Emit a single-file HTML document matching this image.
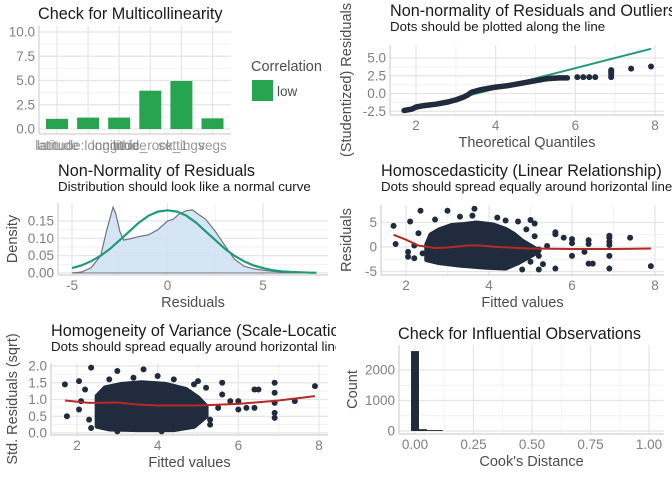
<!DOCTYPE html>
<html><head><meta charset="utf-8"><style>
body{margin:0;background:#fff}
svg{display:block;font-family:"Liberation Sans",sans-serif}
</style></head><body>
<svg id="c" width="672" height="480" viewBox="0 0 672 480" xmlns="http://www.w3.org/2000/svg">
<defs><clipPath id="leftclip"><rect x="0" y="0" width="336" height="480"/></clipPath></defs>
</svg>
<script>
// ---------- data ----------
const vifCategories=["latitude","latitude:longitude","longitude","lithic_rock_1","settings","vegs"];
const vifValues=[1.05,1.17,1.17,3.95,4.95,1.1];
const vifTicks=[0,2.5,5,7.5,10];
const vifTickLabels=["0.0","2.5","5.0","7.5","10.0"];

const qqX=[1.7,1.9,2.0,2.2,2.5,2.8,3.0,3.2,3.3,3.4,3.6,3.8,4.0,4.3,4.6,5.0,5.3,5.6,5.8];
const qqY=[-2.4,-2.2,-1.9,-1.7,-1.5,-1.2,-0.9,-0.5,-0.2,0.2,0.5,0.7,0.9,1.1,1.4,1.8,2.1,2.2,2.2];
const qqOutX=[6.05,6.2,6.35,6.5,6.9,6.9,6.9,6.9,6.9,7.4,7.9];
const qqOutY=[2.3,2.3,2.3,2.3,2.3,2.6,2.9,3.1,3.3,3.5,3.8];
const qqLineX=[1.7,7.9];
const qqLineY=[-2.6,6.3];
const qqXTicks=[2,4,6,8];
const qqYTicks=[-2.5,0,2.5,5];
const qqYLabels=["-2.5","0.0","2.5","5.0"];

const densX=[-5,-4.5,-4,-3.5,-3.2,-3.0,-2.85,-2.7,-2.5,-2.3,-2,-1.5,-1,-0.5,-0.2,0,0.3,0.6,1,1.3,1.6,2,2.5,3,3.5,4,4.5,5,5.5,6,7,7.8];
const densY=[0,0.003,0.015,0.05,0.12,0.16,0.19,0.17,0.12,0.095,0.098,0.105,0.11,0.125,0.14,0.15,0.155,0.17,0.18,0.182,0.17,0.155,0.12,0.08,0.04,0.02,0.012,0.008,0.005,0.003,0.001,0];
const normX=[-5,-4.5,-4,-3.5,-3,-2.5,-2,-1.5,-1,-0.5,0,0.5,1,1.5,2,2.5,3,3.5,4,4.5,5,5.5,6,6.5,7,7.5,7.8];
const normY=[0.014,0.022,0.034,0.05,0.07,0.095,0.12,0.145,0.165,0.177,0.181,0.177,0.165,0.145,0.12,0.095,0.07,0.05,0.034,0.022,0.014,0.008,0.005,0.003,0.002,0.001,0.001];
const densXTicks=[-5,0,5];
const densYTicks=[0,0.05,0.1,0.15];
const densYLabels=["0.00","0.05","0.10","0.15"];

const homBlob=[[2.5,-2.6],[2.5,0.5],[2.6,2.5],[2.8,3.5],[3.1,4.4],[3.4,4.6],[3.7,4.9],[4.1,4.5],[4.4,3.6],[4.6,2.6],[4.8,1.2],[5.0,0.2],[5.2,-0.8],[5.0,-1.8],[4.7,-3.2],[4.4,-4.3],[3.9,-4.1],[3.3,-3.7],[2.8,-3.2]];
const homPts=[[1.7,4.3],[1.75,0.6],[2.05,-1],[2.05,-2.0],[2.1,5.2],[2.35,7.4],[3.0,7.4],[3.65,7.8],[3.6,6.4],[4.7,5.2],[5.0,5.5],[5.1,4.8],[5.2,-1.8],[5.2,-4.6],[5.6,3.0],[5.6,2.6],[5.6,-4.4],[5.8,1.9],[5.3,-3.5],[6.0,1.6],[6.0,0.8],[6.0,-1.8],[6.3,-1.0],[6.4,1.4],[6.4,0.6],[6.4,-3.4],[6.5,-3.4],[6.9,2.3],[6.9,1.9],[6.9,1.1],[6.9,0.4],[6.9,-1.8],[6.9,-4.4],[7.4,1.9],[7.9,-3.9],[5.2,-0.5],[5.4,0.2],[5.0,-3.0],[2.2,-2.3],[2.2,0.3],[2.3,2.8],[2.4,-1.3],[2.7,5.6],[3.3,6.2],[4.2,6.0],[4.4,5.4],[4.8,-4.6],[5.1,2.2],[4.9,3.6]];
const homLoessX=[1.7,2,2.3,2.7,3,3.5,3.8,4.2,5,6,7,7.9];
const homLoessY=[2.5,1.5,0.3,-0.2,-0.1,0.3,0.3,0,-0.3,-0.4,-0.4,-0.3];
const homXTicks=[2,4,6,8];
const homYTicks=[-5,0,5];

const slBlob=[[2.5,0.2],[2.5,1.1],[2.7,1.35],[3.1,1.45],[3.6,1.5],[4.2,1.45],[4.7,1.3],[5.0,1.05],[5.2,0.8],[5.2,0.5],[4.9,0.2],[4.4,0.1],[3.5,0.1],[2.8,0.12]];
const slPts=[[1.7,1.45],[1.75,0.5],[2.05,0.7],[2.05,1.55],[2.35,1.95],[3.0,1.85],[3.65,1.9],[5.0,1.55],[5.2,1.35],[5.3,0.25],[5.6,1.5],[5.6,1.15],[5.5,0.75],[5.8,0.95],[6.0,0.95],[6.0,0.7],[6.4,1.3],[6.5,1.3],[6.4,0.75],[6.2,0.75],[6.9,1.5],[6.9,1.2],[6.9,0.9],[6.9,0.6],[6.9,0.45],[7.4,0.95],[7.9,1.4],[2.1,0.95],[2.2,1.3],[2.3,0.4],[2.35,0.15],[2.8,1.6],[3.4,1.65],[4.0,1.7],[4.4,1.6],[4.9,1.45],[3.0,0.05],[4.1,0.05],[5.3,0.4]];
const slLoessX=[1.7,2.3,3,3.5,4,5,6,7,7.9];
const slLoessY=[0.97,0.9,0.91,0.85,0.82,0.82,0.87,0.97,1.1];
const slXTicks=[2,4,6,8];
const slYTicks=[0,0.5,1,1.5,2];
const slYLabels=["0.0","0.5","1.0","1.5","2.0"];

const cookBinStart=[-0.017,0.017,0.051,0.085];
const cookCounts=[2620,60,30,30];
const cookBinWidth=0.034;
const cookXTicks=[0,0.25,0.5,0.75,1];
const cookXLabels=["0.00","0.25","0.50","0.75","1.00"];
const cookYTicks=[0,1000,2000];

// ---------- helpers ----------
const svg=document.getElementById('c');
const NS="http://www.w3.org/2000/svg";
function el(tag,attrs,parent){const e=document.createElementNS(NS,tag);for(const k in attrs)e.setAttribute(k,attrs[k]);(parent||svg).appendChild(e);return e;}
function txt(s,attrs,parent){const e=el('text',attrs,parent);e.textContent=s;return e;}
function lin(d0,d1,r0,r1){return v=>r0+(v-d0)*(r1-r0)/(d1-d0);}
const DARK="#202c3d", GRID="#e5e5e5", MINOR="#f2f2f2", TICK="#7f7f7f", AX="#4d4d4d";

function panel(name,b,xs,ys,xt,xl,yt,yl,opts){
  const g=el('g',opts.clip?{'clip-path':'url(#leftclip)'}:{});
  
  
  if(!opts.noMinorY)for(let i=0;i<yt.length-1;i++){const v=(yt[i]+yt[i+1])/2;el('line',{x1:b.l,x2:b.r,y1:ys(v),y2:ys(v),stroke:MINOR,'stroke-width':1},g);}
  if(!opts.noMinorX)for(let i=0;i<xt.length-1;i++){const v=(xt[i]+xt[i+1])/2;el('line',{x1:xs(v),x2:xs(v),y1:b.t,y2:b.b,stroke:MINOR,'stroke-width':1},g);}
  yt.forEach((v,i)=>{el('line',{x1:b.l,x2:b.r,y1:ys(v),y2:ys(v),stroke:GRID,'stroke-width':1.2},g);
    const t=txt(yl[i],{x:b.l-4,y:ys(v)+4.5,'text-anchor':'end','font-size':13.5,fill:TICK},g);});
  xt.forEach((v,i)=>{el('line',{x1:xs(v),x2:xs(v),y1:b.t,y2:b.b,stroke:GRID,'stroke-width':1.2},g);
    if(xl){const t=txt(xl[i],{x:xs(v),y:b.b+15,'text-anchor':'middle','font-size':13.5,fill:TICK},g);}});
  el('line',{x1:b.l,x2:b.l,y1:b.t,y2:b.b,stroke:"#d0d0d0",'stroke-width':1.2},g);
  el('line',{x1:b.l,x2:b.r,y1:b.b,y2:b.b,stroke:"#d0d0d0",'stroke-width':1.2},g);
  const ti=txt(opts.title,{x:opts.tx,y:opts.ty,'font-size':16.2,fill:"#1a1a1a"},g);
  
  if(opts.sub){const s=txt(opts.sub,{x:opts.tx,y:opts.ty+15,'font-size':13.3,fill:"#1a1a1a"},g);}
  if(opts.xtitle){const s=txt(opts.xtitle,{x:(b.l+b.r)/2,y:b.b+32,'text-anchor':'middle','font-size':14.5,fill:AX},g);}
  if(opts.ytitle){const s=txt(opts.ytitle,{x:0,y:0,transform:`translate(${opts.yx},${(b.t+b.b)/2}) rotate(-90)`,'text-anchor':'middle','font-size':14.5,fill:AX},g);}
  return g;
}
function pathFrom(xa,ya,xs,ys){return xa.map((x,i)=>(i?'L':'M')+xs(x).toFixed(1)+','+ys(ya[i]).toFixed(1)).join('');}

// ---------- Panel 1: VIF ----------
{const b={l:39,r:231,t:26,b:134};
 const xs=i=>57+i*31.1; const ys=lin(0,10,129,32);
 const g=panel('multicollinearity-panel',b,xs,ys,vifCategories.map((_,i)=>i),null,vifTicks,vifTickLabels,{noMinorX:true,title:"Check for Multicollinearity",tx:38,ty:19,clip:true});
 vifValues.forEach((v,i)=>{const r=el('rect',{x:xs(i)-11,y:ys(v),width:22,height:ys(0)-ys(v),fill:"#27a450"},g);
   });
 vifCategories.forEach((c,i)=>{const t=txt(c,{x:xs(i),y:150,'text-anchor':'middle','font-size':13.5,fill:TICK,'fill-opacity':0.8},g);
   });
 const lg=el('g',{},g);
 txt("Correlation",{x:251,y:71,'font-size':14.5,fill:AX},lg);
 el('rect',{x:252,y:80,width:21,height:21,fill:"#27a450"},lg);
 txt("low",{x:277,y:96,'font-size':13.5,fill:AX},lg);
}
// ---------- Panel 2: QQ ----------
{const b={l:390,r:664,t:45,b:115};
 const xs=lin(2,8,416,655), ys=lin(0,5,93.5,58);
 const g=panel('qq-panel',b,xs,ys,qqXTicks,qqXTicks.map(String),qqYTicks,qqYLabels,{title:"Non-normality of Residuals and Outliers",sub:"Dots should be plotted along the line",tx:390,ty:16,xtitle:"Theoretical Quantiles",ytitle:"(Studentized) Residuals",yx:351});
 const l=el('path',{d:pathFrom(qqLineX,qqLineY,xs,ys),stroke:"#1f9a76",'stroke-width':2,fill:'none'},g);
 const p=el('path',{d:pathFrom(qqX,qqY,xs,ys),stroke:DARK,'stroke-width':5.5,'stroke-linecap':'round','stroke-linejoin':'round',fill:'none'},g);
 qqOutX.forEach((x,i)=>{const c=el('circle',{cx:xs(x),cy:ys(qqOutY[i]),r:3,fill:DARK},g);});
}
// ---------- Panel 3: density ----------
{const b={l:58,r:328,t:203,b:275};
 const xs=lin(-5,5,72,263), ys=lin(0,0.15,273,221);
 const g=panel('density-panel',b,xs,ys,densXTicks,densXTicks.map(String),densYTicks,densYLabels,{title:"Non-Normality of Residuals",sub:"Distribution should look like a normal curve",tx:58,ty:176,xtitle:"Residuals",ytitle:"Density",yx:17,clip:true});
 const d=pathFrom(densX,densY,xs,ys);
 const a=el('path',{d:d+`L${xs(densX[densX.length-1])},${ys(0)}L${xs(densX[0])},${ys(0)}Z`,fill:"#cfe1f2",'fill-opacity':0.85,stroke:'none'},g);
 el('path',{d:d,stroke:"#6e7580",'stroke-width':1.2,fill:'none'},g);
 el('line',{x1:xs(-5),x2:xs(7.8),y1:ys(0),y2:ys(0),stroke:"#6e7580",'stroke-width':1},g);
 const n=el('path',{d:pathFrom(normX,normY,xs,ys),stroke:"#1f9a76",'stroke-width':2.2,fill:'none'},g);
}
// ---------- Panel 4: homoscedasticity ----------
{const b={l:381,r:664,t:205,b:275};
 const xs=lin(2,8,406,655), ys=lin(0,5,247,222.5);
 const g=panel('homoscedasticity-panel',b,xs,ys,homXTicks,homXTicks.map(String),homYTicks,homYTicks.map(String),{title:"Homoscedasticity (Linear Relationship)",sub:"Dots should spread equally around horizontal line",tx:381,ty:176,xtitle:"Fitted values",ytitle:"Residuals",yx:351});
 const bl=el('path',{d:homBlob.map((p,i)=>(i?'L':'M')+xs(p[0])+','+ys(p[1])).join('')+'Z',fill:DARK,stroke:DARK,'stroke-width':5,'stroke-linejoin':'round'},g);
 homPts.forEach(p=>{const c=el('circle',{cx:xs(p[0]),cy:ys(p[1]),r:3,fill:DARK},g);});
 const l=el('path',{d:pathFrom(homLoessX,homLoessY,xs,ys),stroke:"#b52a23",'stroke-width':2,fill:'none'},g);
}
// ---------- Panel 5: scale-location ----------
{const b={l:51,r:328,t:363,b:435};
 const xs=lin(2,8,77,319), ys=lin(0,2,433,366);
 const g=panel('scale-location-panel',b,xs,ys,slXTicks,slXTicks.map(String),slYTicks,slYLabels,{title:"Homogeneity of Variance (Scale-Location)",sub:"Dots should spread equally around horizontal line",tx:51,ty:336,xtitle:"Fitted values",ytitle:"Std. Residuals (sqrt)",yx:17,clip:true});
 const bl=el('path',{d:slBlob.map((p,i)=>(i?'L':'M')+xs(p[0])+','+ys(p[1])).join('')+'Z',fill:DARK,stroke:DARK,'stroke-width':5,'stroke-linejoin':'round'},g);
 slPts.forEach(p=>{const c=el('circle',{cx:xs(p[0]),cy:ys(p[1]),r:3,fill:DARK},g);});
 const l=el('path',{d:pathFrom(slLoessX,slLoessY,xs,ys),stroke:"#b52a23",'stroke-width':2,fill:'none'},g);
}
// ---------- Panel 6: Cook's distance ----------
{const b={l:399,r:664,t:345,b:434};
 const xs=lin(0,1,415,649), ys=lin(0,2000,431,370);
 const g=panel('influential-panel',b,xs,ys,cookXTicks,cookXLabels,cookYTicks,cookYTicks.map(String),{title:"Check for Influential Observations",tx:398,ty:339,xtitle:"Cook's Distance",ytitle:"Count",yx:357});
 cookCounts.forEach((c,i)=>{const r=el('rect',{x:xs(cookBinStart[i]),y:ys(c),width:xs(cookBinStart[i]+cookBinWidth)-xs(cookBinStart[i]),height:ys(0)-ys(c),fill:DARK},g);
   });
}
</script>
</body></html>
